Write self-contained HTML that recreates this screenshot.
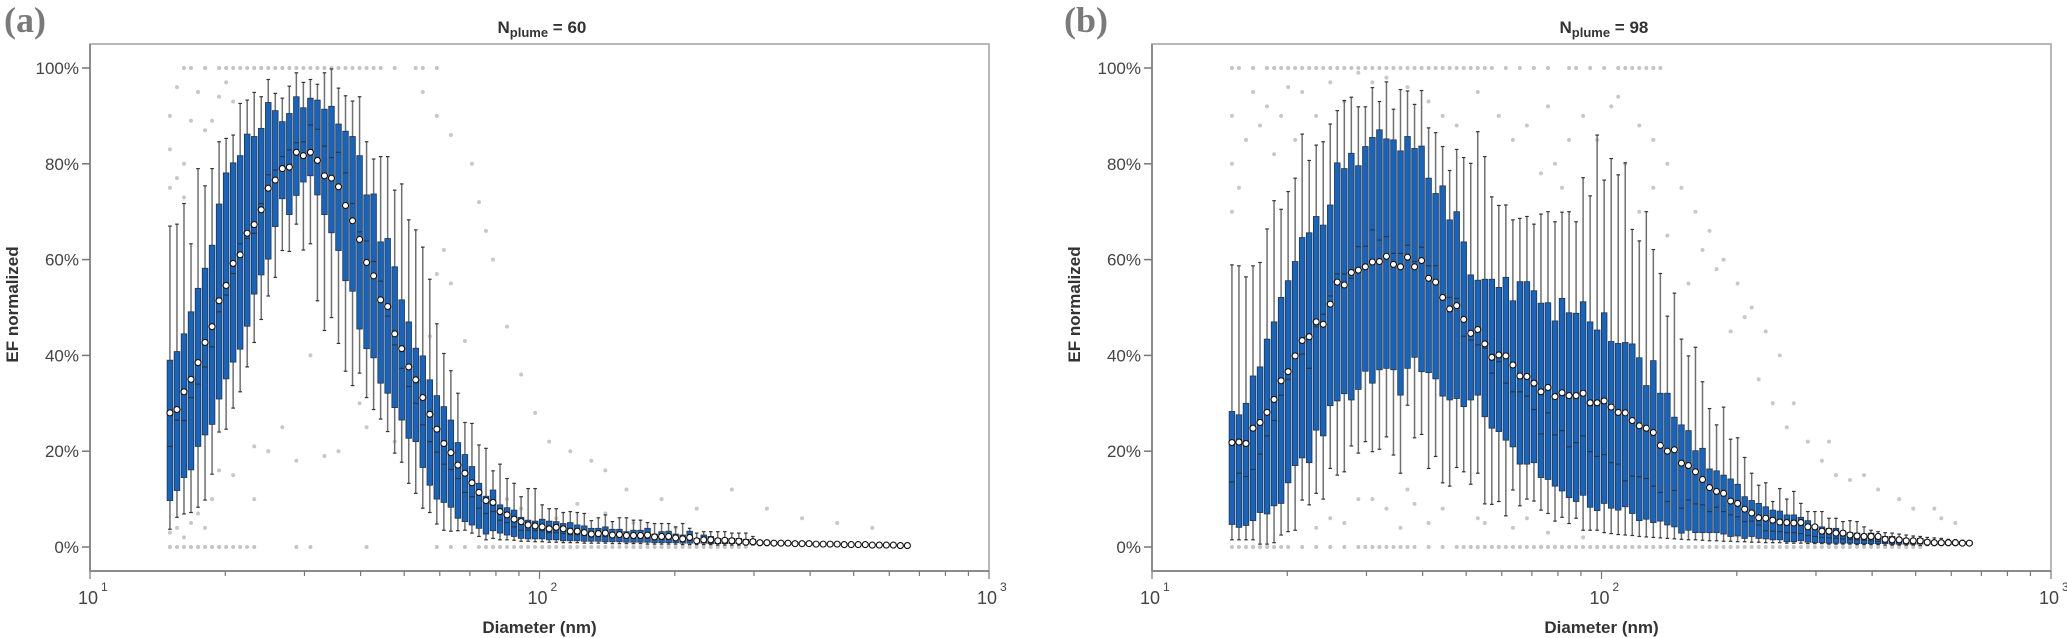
<!DOCTYPE html>
<html><head><meta charset="utf-8"><style>
html,body{margin:0;padding:0;background:#fff;}
svg{display:block;font-family:"Liberation Sans",Arial,sans-serif;}
</style></head><body>
<svg id="chart" width="2067" height="638" viewBox="0 0 2067 638" xmlns="http://www.w3.org/2000/svg"></svg>
<script>
// ---------- DATA ----------
const binsPerDecade = 64;
const firstDiameter = 15.06;
const nBins = 106;
const panelTitles = ["60", "98"];
const panelLetters = ["(a)", "(b)"];
const yTickValues = [0, 20, 40, 60, 80, 100];
const yTickLabels = ["0%", "20%", "40%", "60%", "80%", "100%"];
const xTickExps = [1, 2, 3];

// Panel (a)
const q3A = [39,40.8,44.5,49.1,54,58.2,63,71.6,78.1,80.2,81.7,86.2,85.7,87.4,92.8,91.1,88.8,90.5,94,91.7,93.7,93.3,91.4,92,88.3,86.8,85.7,81.7,73.5,73.7,63.7,64.4,58.5,51.6,47,41.5,39.9,34.9,31.6,29.3,26.5,21.8,19.3,16.8,13.3,10.6,11.9,8.8,8.2,7.7,6.2,5.6,5.4,5.8,5.4,5.3,
4.9,5.1,4.6,4.4,3.9,3.9,4.2,3.7,3.7,3.2,3.5,3.5,3.9,2.7,3.2,3.3,2.7,2.5,3.3,1.8,2.5,2.2,1.8,1.8,1.8,1.8,1.6,1.6,
0.9,0.9,0.8,0.8,0.8,0.7,0.7,0.7,0.6,0.6,0.6,0.6,0.5,0.5,0.5,0.5,0.4,0.4,0.4,0.4,0.3,0.3];
const q1A = [9.7,11.8,14.5,16.1,21,23.4,25.6,30.9,35.1,38.6,41.3,46.1,52.8,56.8,60.1,66.9,72.7,69.4,73.4,76.2,77.5,73.5,69.4,65.6,61.9,55.6,53.4,45.5,41.4,39.5,34.2,32.1,29.1,26.5,22.7,22,16.6,12.9,10,9.3,8.3,6,5.3,4.6,3.9,2.7,3.4,2.9,2.5,2.2,1.8,1.7,1.7,1.7,1.5,1.5,
1.3,1.3,1.3,1.2,1.2,1.2,1.1,1.1,1.1,1.0,1.0,1.0,1.0,0.9,0.9,0.9,0.9,0.8,0.8,0.8,0.8,0.7,0.7,0.7,0.7,0.7,0.6,0.6,
0.6,0.6,0.5,0.5,0.5,0.5,0.5,0.4,0.4,0.4,0.4,0.4,0.3,0.3,0.3,0.3,0.3,0.2,0.2,0.2,0.2,0.2];
const medA = [21,26.5,26.4,31.2,34,37.6,41.8,49.1,52.6,57.1,63.3,64.4,65.5,71.7,77.7,78.7,81.5,82.9,84.4,84.6,88.1,87.2,83.7,81.3,82.4,78.1,71.7,65.8,63.9,59.6,55.5,48.2,42.2,37.3,33.5,30,25.5,22,19.8,17.3,16.2,14.3,11.4,10.5,8.1,7,7.4,5.6,5.1,4.2,3.5,3.5,3.4,3.4,3,3,
2.8,2.6,2.6,2.4,2.2,2.2,2.2,2.0,2.0,1.9,1.8,1.8,1.8,1.6,1.6,1.6,1.5,1.4,1.4,1.1,1.1,1.1,1.0,1.0,1.0,0.9,0.9,0.9,
0.8,0.8,0.7,0.7,0.7,0.6,0.6,0.6,0.5,0.5,0.5,0.5,0.4,0.4,0.4,0.4,0.3,0.3,0.3,0.3,0.2,0.2];
const meanA = [28,28.7,32.4,35,38.5,42.7,46,51.4,54.6,59.2,61,65.5,67.3,70.4,74.9,76.6,79,79.3,82.4,81.7,82.4,80.7,77.5,77,75.2,71.3,68.1,64.2,59.4,56.6,51.6,50.2,44.5,41.4,37.6,34.9,31.2,27.7,24.6,21.6,19.7,17.1,15.4,13.4,11.4,9.7,9.3,7.4,6.7,5.8,5.3,4.6,4.4,4.2,3.8,4.1,
3.8,3.3,3.3,3.0,2.7,2.8,2.9,2.5,2.6,2.4,2.4,2.4,2.5,2.1,2.2,2.2,1.9,1.7,2.0,1.3,1.5,1.5,1.3,1.4,1.3,1.2,1.0,1.1,
0.9,0.9,0.8,0.8,0.8,0.7,0.7,0.7,0.6,0.6,0.6,0.6,0.5,0.5,0.5,0.5,0.4,0.4,0.4,0.4,0.3,0.3];
const whiA = [67,67.4,71.7,63.3,79,75.4,79,84.6,85.3,86,92.6,93.3,94.9,94,97.6,94.7,93.7,96.2,99,97,97.6,96.6,99,99.8,95.8,94.2,93.1,94,84.6,81,81.5,81.5,74.5,75.8,68.3,66.2,62.6,55.9,46.6,40.4,36.8,32.1,26,25.8,21.3,20.6,15.9,17.3,14.3,13.3,10.5,12.2,12.2,8.8,8,8,
7.2,7.4,7.2,7.0,5.5,6.1,6.7,5.3,6.1,6.1,5.6,5.6,5.1,4.9,4.9,4.9,4.2,4.9,3.9,2.9,3.2,3.2,3.2,3.2,2.9,2.9,2.9,2.2,
1.2,1.1,1.1,1.0,1.0,0.9,0.9,0.9,0.8,0.8,0.8,0.7,0.7,0.7,0.6,0.6,0.6,0.5,0.5,0.5,0.4,0.4];
const wloA = [3.7,6.2,6.9,7.2,8.3,9.8,15.2,24,24.6,29,32.4,37.6,42.7,47.5,52.4,56.3,61.9,61.7,67.4,62,63.3,51.4,45.2,47.9,42.5,36.7,33.7,36.3,31.2,28.7,26.7,24.1,19.6,17.7,13.3,11.2,8.1,7.2,4.8,3.5,3.3,3.4,3.5,2.9,2.2,1.5,1.8,1.5,1.5,1.4,1.2,1.2,1.1,1.1,1.0,1.0,
0.9,0.9,0.9,0.8,0.8,0.8,0.8,0.7,0.7,0.7,0.7,0.7,0.6,0.6,0.6,0.6,0.6,0.5,0.5,0.5,0.5,0.5,0.4,0.4,0.4,0.4,0.4,0.4,
0.3,0.3,0.3,0.3,0.3,0.3,0.3,0.3,0.2,0.2,0.2,0.2,0.2,0.2,0.2,0.2,0.1,0.1,0.1,0.1,0.1,0.1];
const topOutlierBinsA = [2,3,5,7,8,9,10,11,12,13,14,15,16,17,18,19,20,21,22,23,24,25,26,27,28,29,30,32,35,36,38];
const zeroOutlierBinsA = [0,1,2,3,4,5,6,7,8,9,10,11,12,18,20,28,38,40,42,44,45,46,47,48,49,50,51,52,53,54,55,56,57,58,59,60,61,62,63,64,65,66,67,68,69,70,71,72,73,74,75,76,77,78,79,80,81,82];
const otherOutliersA = [[0,90],[0,83],[0,75],[1,96],[1,77],[2,80],[2,73],[3,89],[4,95],[5,87],[6,89],[7,94],[8,97],[9,93],[0,3],[1,4],[2,2],[3,5],[4,7],[5,4],[6,10],[7,16],[9,15],[12,10],[12,21],[14,20],[16,25],[18,18],[20,40],[22,19],[24,20],[27,30],[28,25],[30,35],[32,22],[33,45],[35,38],[36,95],[37,44],[38,57],[38,90],[39,62],[40,55],[40,86],[42,43],[43,80],[44,72],[45,66],[46,60],[48,46],[50,36],[52,28],[54,22],[57,20],[60,18],[62,16],[65,12],[70,10],[75,8],[80,12],[85,8],[90,6],[95,5],[100,4],[48,10],[50,8],[55,6],[58,9],[62,7],[66,5],[72,4]];

// Panel (b)
const q3B = [28.3,27.6,30,35.7,37.6,43.4,47,52.1,55.6,59.6,64.6,65.6,69,67.2,71.4,80.2,79,82.2,79.6,83.6,85.5,87.1,85.2,85,82.7,85.7,83.2,83.7,77,73.8,75.4,68.3,70,63.7,56.8,55.7,55.9,55.9,54.2,56.3,51.4,55.4,55.4,53.5,50.9,51,47.2,51.9,48.9,48.8,51.2,47,45.3,
48.9,42.9,42.5,42.7,42.4,39.5,33.7,38.9,32.1,32.1,27.1,25.5,24.3,20.1,20.6,16.3,15.9,15,14.2,13.1,10.5,9.7,9.1,8.4,7.7,7.5,6.7,6.7,6.2,5.5,4.6,4.2,3.9,3.9,3.3,3.0,2.9,2.7,2.9,2.5,2.2,2.2,1.8,1.7,1.5,1.8,1.5,1.1,1.1,1.1,1.1,1.1,1.1];
const q1B = [4.7,4.1,4.5,5.5,7.2,6.9,8.6,9.1,13.4,17,18.6,17.6,24.4,23.2,29.5,30.5,32,30.7,32.9,36.7,34.2,37,37.3,37,31.7,37.3,39.6,36.6,36.4,35.1,31.5,30.7,31,29.3,30.7,31.7,27.2,24.8,24.1,22.3,20.9,17.3,17.3,17.6,14.5,14.1,12.7,11.7,10.3,9.5,10.8,8.3,7.6,
9.1,8.1,7.7,8.4,7.0,5.5,5.8,5.1,5.4,4.6,4.2,2.9,3.5,3.0,3.0,3.0,3.0,2.7,2.2,2.3,1.8,2.2,1.8,1.7,1.5,1.5,1.1,1.1,1.3,1.0,0.9,0.9,0.8,0.8,0.8,0.8,0.7,0.7,0.7,0.7,0.7,0.6,0.6,0.6,0.6,0.6,0.6,0.5,0.5,0.5,0.5,0.5,0.5];
const medB = [13.6,15.4,14.7,16.2,19.4,23.2,26.4,31.7,35,40.3,40.3,37.3,46,48.6,52.4,57,57,56.1,62.7,62.8,66.2,64.1,64.8,61.3,61.3,63,59.6,62.6,58.7,58.7,52.3,52.1,51.9,44,43.2,42.2,41.5,36.3,38.7,34.2,32.4,32.4,31.5,28.7,23.6,28,23.4,24.3,20.9,21.8,23.2,19.9,18.9,
19.3,17.6,17.3,13.8,14.8,14.7,14.3,12.7,11.4,9.5,11.8,8.1,9.8,9,8.8,7.4,8.3,7.4,6.7,6.3,5.3,5.4,4.6,3.4,3.3,3.2,3.0,3.0,2.8,2.4,2.2,2.0,1.9,1.8,1.7,1.6,1.5,1.4,1.3,1.2,1.1,1.1,1.0,1.0,0.9,0.9,0.8,0.8,0.8,0.7,0.7,0.7,0.7];
const meanB = [21.8,21.9,21.6,24.8,26,28.1,30.8,34.7,36.6,39.9,43.1,43.9,47,46.5,50.7,55.3,54.7,57.3,57.8,58.5,59.5,59.6,60.7,59,58.5,60.5,58.5,59.8,56.1,55.3,52.1,49.7,50.4,47.5,44.6,45.4,42.4,39.6,40.1,39.9,38,35.7,35.6,34.2,32.4,33.3,31.4,32.2,31.6,31.6,32.1,30.1,30.1,
30.5,29.2,28.1,28,26.4,25.3,24.8,23.9,21.2,20,20.3,17.5,17,15.7,14.1,12.4,11.6,11.2,9.6,9.1,7.9,7.1,6.1,6.0,5.6,5.2,5.1,5.0,5.1,4.2,4.2,3.3,3.3,2.9,2.9,2.5,2.3,2.2,2.2,2.2,1.6,1.5,1.5,1.3,1.3,1.3,1.0,0.9,0.9,0.9,0.9,0.8,0.8];
const whiB = [58.9,58.7,56.4,58.7,59.4,66.4,72.3,70.5,74.2,77,86.2,80.7,83.9,84.6,88.3,91.1,93.2,93.9,91.9,91.9,95.9,93,97.1,91.4,95.5,95.2,92.4,95.3,87.5,86.5,83.6,78.6,83,81.3,80.1,86.7,81.5,73.1,71.3,71.4,68.3,68.6,69,67.4,69.5,70,67.9,69.9,70,67.9,77.1,73.3,86,
76.6,81.1,77.7,80.2,66.3,63.9,70,62.1,57.1,48.2,53,43.4,39.9,41.7,34.5,28.9,25.5,29.2,22.5,22.8,18.7,15.4,12.9,13.4,9.5,12.2,10,11.6,9.1,7.4,7.4,7.4,6,6,5.3,5.5,5.3,4.2,3.5,3.2,3.0,2.9,2.7,2.5,2.3,2.2,2.0,1.9,1.8,1.6,1.5,1.4,1.3];
const wloB = [1.5,1.5,1.5,1.5,0.6,0.6,0.9,2.5,3.2,3.5,9.8,8.8,11.2,10,16.4,15,15.7,21.1,19.6,22,19.9,20.4,23,19.2,15.4,29.6,22.8,23.5,16.4,18.9,13.4,12.7,16.6,15.7,13.1,15.4,9,8.9,9.5,6.5,11.9,8.6,10,9.6,7.7,7,5.4,6.2,4.9,6,3.5,3.5,3.5,
3.0,2.8,2.6,2.5,2.4,2.2,2.1,2.0,1.9,1.8,1.7,1.6,1.5,1.5,1.4,1.3,1.3,1.2,1.2,1.1,1.1,1.0,1.0,0.9,0.9,0.9,0.8,0.8,0.8,0.7,0.7,0.7,0.6,0.6,0.6,0.6,0.5,0.5,0.5,0.5,0.4,0.4,0.4,0.4,0.4,0.3,0.3,0.3,0.3,0.3,0.3,0.3,0.3];
const topOutlierBinsB = [0,1,3,5,6,7,8,9,10,11,12,13,14,15,16,17,18,19,20,21,22,23,24,25,26,27,28,29,30,31,32,33,34,35,36,37,39,41,43,45,48,49,51,53,55,56,57,58,59,60,61];
const zeroOutlierBinsB = [0,1,2,3,4,5,6,7,8,10,12,14,16,18,19,20,21,22,23,24,25,26,28,30,32,33,34,35,36,37,38,39,40,41,42,43,44,45,46,47,48,49,50,51,52,53,54,55,56,57,58,59,60,61,62,63,64,65,66,67,68,69,70,71,72,73,74,75,76,77,78,79,80,81,82,83,84,85,86,87,88,89,90,91,92,93,94,95,96,97,98];
const otherOutliersB = [[0,80],[0,70],[0,90],[1,75],[2,85],[3,95],[4,88],[5,92],[6,82],[7,90],[8,96],[9,85],[10,95],[12,90],[14,97],[16,93],[18,99],[20,97],[22,98],[25,96],[28,93],[30,90],[32,88],[35,95],[38,90],[40,85],[42,88],[45,92],[48,85],[50,90],[52,85],[55,94],[58,88],[60,85],[62,80],[64,75],[66,70],[68,66],[70,60],[72,55],[74,50],[76,45],[78,40],[80,30],[85,22],[90,15],[95,10],[100,8],[103,5],[20,10],[22,8],[25,12],[28,5],[30,8],[35,6],[40,4],[45,3],[50,2],[12,4],[14,6],[16,5],[18,10],[24,4],[26,9],[36,5],[42,6],[46,80],[47,75],[44,78],[54,92],[56,80],[58,70],[60,75],[62,65],[65,55],[67,62],[69,58],[71,45],[73,48],[75,35],[77,30],[79,25],[82,22],[84,18],[86,15],[88,14],[92,12],[97,8],[101,6]];

// ---------- LAYOUT ----------
const NS = "http://www.w3.org/2000/svg";
const svg = document.getElementById("chart");
function el(tag, attrs, parent){const e=document.createElementNS(NS,tag);for(const k in attrs)e.setAttribute(k,attrs[k]);(parent||svg).appendChild(e);return e;}

const panels = [
  {left:90, data:{q3:q3A,q1:q1A,med:medA,mean:meanA,whi:whiA,wlo:wloA,top:topOutlierBinsA,zero:zeroOutlierBinsA,other:otherOutliersA}, letterX:4, ylabX:18},
  {left:1152, data:{q3:q3B,q1:q1B,med:medB,mean:meanB,whi:whiB,wlo:wloB,top:topOutlierBinsB,zero:zeroOutlierBinsB,other:otherOutliersB}, letterX:1064, ylabX:1080}
];
const axTop=44, axBottom=571, decadePx=449.5, y0=547, yPer=4.79;

panels.forEach((p,pi)=>{
  const g = el("g",{});
  
  
  const xScale = d => p.left + (Math.log10(d)-1)*decadePx;
  const yScale = v => y0 - v*yPer;
  const right = p.left + 2*decadePx;
  const diam = i => firstDiameter*Math.pow(10, i/binsPerDecade);

  // axes frame
  const frame = el("rect",{x:p.left,y:axTop,width:right-p.left,height:axBottom-axTop,fill:"none",stroke:"#a0a0a0","stroke-width":1.5},g);
  
  
  el("line",{x1:p.left,y1:axTop,x2:p.left,y2:axBottom,stroke:"#8c8c8c","stroke-width":2},g);
  el("line",{x1:p.left,y1:axBottom,x2:right,y2:axBottom,stroke:"#8c8c8c","stroke-width":2},g);

  // y ticks
  yTickValues.forEach((v,k)=>{
    const y=yScale(v);
    el("line",{x1:p.left-8,y1:y,x2:p.left,y2:y,stroke:"#777","stroke-width":1.5},g);
    const t=el("text",{x:p.left-11,y:y+6,"text-anchor":"end","font-size":17,fill:"#444"},g);
    t.textContent=yTickLabels[k];
    
    
  });
  // x ticks (major+minor)
  for(let e=1;e<=2;e++){for(let m=1;m<=9;m++){const d=m*Math.pow(10,e);const x=xScale(d);el("line",{x1:x,y1:axBottom,x2:x,y2:axBottom+(m===1?8:5),stroke:"#777","stroke-width":1.2},g);}}
  el("line",{x1:right,y1:axBottom,x2:right,y2:axBottom+8,stroke:"#777","stroke-width":1.2},g);
  xTickExps.forEach(e=>{
    const x=xScale(Math.pow(10,e));
    const t=el("text",{x:x-2,y:604,"text-anchor":"middle","font-size":18,fill:"#444"},g);
    t.textContent="10";
    
    
    const s=el("text",{x:x+11,y:591,"font-size":12,fill:"#444"},g);
    s.textContent=String(e);
  });

  // outliers
  const od = p.data;
  od.top.forEach(i=>{const c=el("circle",{cx:xScale(diam(i)),cy:yScale(100),r:2,fill:"#c4c4c4"},g);});
  od.zero.forEach(i=>{const c=el("circle",{cx:xScale(diam(i)),cy:yScale(0),r:2,fill:"#c4c4c4"},g);});
  od.other.forEach(o=>{const c=el("circle",{cx:xScale(diam(o[0])),cy:yScale(o[1]),r:2,fill:"#c8c8c8"},g);});

  // boxes
  const bw=5.6;
  for(let i=0;i<nBins;i++){
    const x=xScale(diam(i));
    const bg=el("g",{},g);
    
    
    el("line",{x1:x,y1:yScale(od.whi[i]),x2:x,y2:yScale(od.wlo[i]),stroke:"#707070","stroke-width":1.5},bg);
    el("line",{x1:x-1.8,y1:yScale(od.whi[i]),x2:x+1.8,y2:yScale(od.whi[i]),stroke:"#333","stroke-width":1.2},bg);
    el("line",{x1:x-1.8,y1:yScale(od.wlo[i]),x2:x+1.8,y2:yScale(od.wlo[i]),stroke:"#333","stroke-width":1.2},bg);
    const yt=yScale(od.q3[i]), yb=yScale(od.q1[i]);
    el("rect",{x:x-bw/2,y:yt,width:bw,height:Math.max(0.8,yb-yt),fill:"#1565c0",stroke:"#2b3440","stroke-width":0.8},bg);
    el("line",{x1:x-bw/2,y1:yScale(od.med[i]),x2:x+bw/2,y2:yScale(od.med[i]),stroke:"#23384f","stroke-width":1.2},bg);
    const m=el("circle",{cx:x,cy:yScale(od.mean[i]),r:3,fill:"#fff",stroke:"#111","stroke-width":1.1},bg);
    
    
  }

  // title
  const cx=(p.left+right)/2;
  const title=el("text",{x:cx-42,y:33,"font-size":17,"font-weight":"bold",fill:"#333"},g);
  
  
  const tN=el("tspan",{},title);tN.textContent="N";
  const tS=el("tspan",{"font-size":13,dy:4},title);tS.textContent="plume";
  const tV=el("tspan",{dy:-4},title);tV.textContent=" = "+panelTitles[pi];

  // axis labels
  const xl=el("text",{x:cx,y:633,"text-anchor":"middle","font-size":17,"font-weight":"bold",fill:"#333"},g);
  xl.textContent="Diameter (nm)";
  
  
  const yc=(axTop+axBottom)/2-3;
  const yl=el("text",{x:p.ylabX,y:yc,"text-anchor":"middle","font-size":17,"font-weight":"bold",fill:"#333",transform:`rotate(-90 ${p.ylabX} ${yc})`},g);
  yl.textContent="EF normalized";
  
  

  const lt=el("text",{x:p.letterX,y:32,"font-size":36,"font-weight":"bold",fill:"#7a7a7a","font-family":"Liberation Serif, serif"},g);
  lt.textContent=panelLetters[pi];
  
  
});
</script>
</body></html>
